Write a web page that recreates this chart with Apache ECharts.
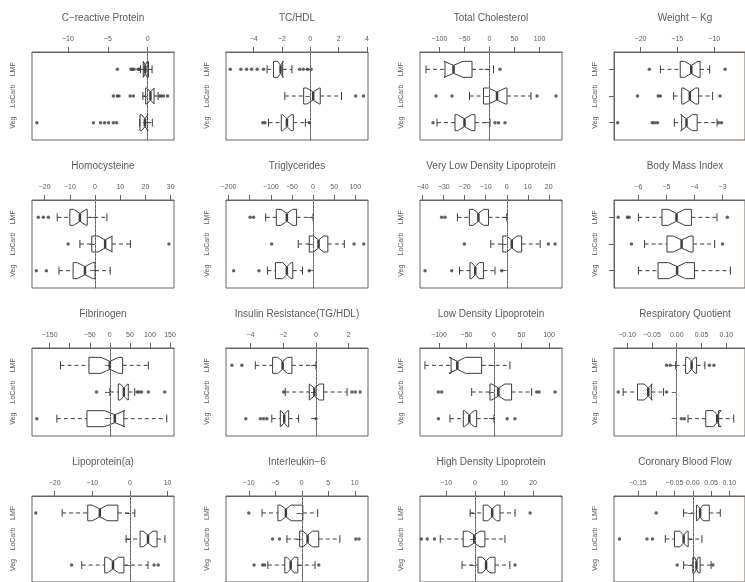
<!DOCTYPE html>
<html>
<head>
<meta charset="utf-8">
<script src="https://cdn.jsdelivr.net/npm/echarts@6/dist/echarts.min.js"></script>
<style>
html, body { margin: 0; background: #fff; }
#chart { width: 745px; height: 582px; }
</style>
</head>
<body>
<div id="chart"></div>
<script>
const groupNames = ['LMF', 'LoCarb', 'Veg'];
const titles = [
    'C\u2212reactive Protein', 'TC/HDL', 'Total Cholesterol', 'Weight \u2212 Kg',
    'Homocysteine', 'Triglycerides', 'Very Low Density Lipoprotein', 'Body Mass Index',
    'Fibrinogen', 'Insulin Resistance(TG/HDL)', 'Low Density Lipoprotein', 'Respiratory Quotient',
    'Lipoprotein(a)', 'Interleukin\u22126', 'High Density Lipoprotein', 'Coronary Blood Flow'
];
const axisMin = [-14.5, -5.95, -139, -23.6, -25, -206, -41.3, -6.87, -194, -5.5, -134.5, -0.1265, -26, -14.3, -19, -0.215];
const axisMax = [3.3, 4.07, 145, -5.8, 31.3, 130, 26.3, -2.2, 160, 3.18, 123.6, 0.1377, 11.7, 12.5, 30, 0.1425];
const tickValues = [
    [-10, -5, 0], [-4, -2, 0, 2, 4], [-100, -50, 0, 50, 100], [-20, -15, -10],
    [-20, -10, 0, 10, 20, 30], [-200, -150, -100, -50, 0, 50, 100], [-40, -30, -20, -10, 0, 10, 20], [-6, -5, -4, -3],
    [-150, -100, -50, 0, 50, 100, 150], [-4, -2, 0, 2], [-100, -50, 0, 50, 100], [-0.1, -0.05, 0, 0.05, 0.1],
    [-20, -10, 0, 10], [-10, -5, 0, 5, 10], [-10, 0, 10, 20], [-0.15, -0.1, -0.05, 0, 0.05, 0.1]
];
const tickLabels = [
    [-10, -5, 0], [-4, -2, 0, 2, 4], [-100, -50, 0, 50, 100], [-20, -15, -10],
    [-20, -10, 0, 10, 20, 30], [-200, -100, -50, 0, 50, 100], [-40, -30, -20, -10, 0, 10, 20], [-6, -5, -4, -3],
    [-150, -50, 0, 50, 100, 150], [-4, -2, 0, 2], [-100, -50, 0, 50, 100], [-0.1, -0.05, 0, 0.05, 0.1],
    [-20, -10, 0, 10], [-10, -5, 0, 5, 10], [-10, 0, 10, 20], [-0.15, -0.05, 0, 0.05, 0.1]
];
// per panel, per group: [lower whisker, Q1, median, Q3, upper whisker]
const boxStats = [
    [[-0.9, -0.55, -0.3, 0.1, 0.55], [-0.6, -0.25, 0.35, 0.8, 1.3], [-1.0, -0.96, -0.35, -0.04, 0.58]],
    [[-3.05, -2.6, -2.1, -1.95, -1.3], [-1.8, -0.47, 0.2, 0.7, 2.2], [-2.95, -2.05, -1.65, -1.2, -0.35]],
    [[-127, -89, -72, -35, 8], [-40, -12, 15, 35, 83], [-105, -69, -50, -29, 1]],
    [[-17.3, -14.6, -13.1, -11.9, -10.6], [-15.5, -14.4, -13.3, -12.1, -10.2], [-15.4, -14.4, -13.75, -12.3, -9.6]],
    [[-15, -10, -6, -3.1, 4.7], [-6, -1.3, 4, 6.7, 14], [-14.3, -8.7, -4, 0, 6]],
    [[-112, -87, -62, -39, 0], [-35, -9, 13, 35, 74], [-108, -89, -62, -48, -25]],
    [[-23.5, -17.8, -13.5, -8.7, 0], [-7.6, -1.9, 2.4, 7.1, 15.9], [-22.5, -17.5, -15, -11.1, -5.6]],
    [[-6.0, -5.16, -4.64, -4.11, -3.2], [-5.78, -4.98, -4.46, -4.05, -3.28], [-6.0, -5.3, -4.62, -4.0, -2.72]],
    [[-123, -52, 0, 32, 96], [0, 21, 35, 46, 62], [-132, -57, 12.5, 35, 142]],
    [[-3.71, -2.65, -2.04, -1.47, 0], [-1.88, -0.41, -0.1, 0.47, 1.9], [-2.7, -2.18, -1.94, -1.67, -1.06]],
    [[-125.5, -78, -66.7, -22.4, 29], [-40.6, -7.3, 7.9, 32, 68.5], [-80, -55.8, -44.8, -31.5, 0]],
    [[-0.002, 0.0179, 0.03, 0.0401, 0.0568], [-0.108, -0.079, -0.0574, -0.0512, -0.0265], [0.0228, 0.0586, 0.0815, 0.0846, 0.115]],
    [[-18, -11.2, -8, -3.2, 1.3], [-1, 2.7, 4.8, 7.2, 9.3], [-12.8, -6.7, -4.5, -1.6, 4.8]],
    [[-7.5, -4.5, -3, 0.2, 3], [-2.8, -0.4, 1.1, 3.2, 7.2], [-6.4, -3.2, -2.1, -0.75, 2.5]],
    [[-1.7, 2.8, 5.9, 8.6, 13.8], [-12, -4.1, -0.3, 3.4, 10.3], [-4.5, 1, 3.8, 6.9, 12]],
    [[-0.025, 0.01, 0.02, 0.045, 0.075], [-0.075, -0.05, -0.025, -0.0125, 0.025], [-0.025, 0, 0.01, 0.02, 0.05]]
];
// half width of the notch around the median
const notchHalf = [
    [0.25, 0.45, 0.4], [0.2, 0.45, 0.3], [19, 17, 14], [0.9, 0.8, 0.8],
    [2.5, 2.8, 3], [14, 12, 10], [2.5, 2.5, 1.8], [0.3, 0.3, 0.3],
    [22, 9, 25], [0.3, 0.3, 0.2], [15, 12, 9], [0.007, 0.008, 0.008],
    [2, 1.3, 1.5], [1, 0.9, 0.7], [1.5, 2, 1.3], [0.008, 0.01, 0.005]
];
const outliers = [
    [[-3.8, -2.1, -1.9, -1.7, -1.2, -1.05], [-4.3, -3.8, -3.6, -2.2, -1.8, 1.5, 1.7, 2.0, 2.5], [-13.9, -6.8, -5.9, -5.4, -4.9, -4.3, -3.9]],
    [[-5.65, -4.9, -4.5, -4.15, -3.75, -3.3, -0.75, -0.5, -0.2, 0.05], [3.2, 3.75], [-3.35, -3.2, -0.07]],
    [[21], [-107, -75, 95, 133], [-113, 11, 18, 31]],
    [[-18.8, -8.5], [-20.4, -17.6, -17.3, -9.2], [-23.1, -18.4, -18.1, -17.7, -9.4, -9.0]],
    [[-22.5, -20.5, -18.5], [-10.7, 29.3], [-23.3, -19.3]],
    [[-149, -141], [-98, 97, 120], [-188, -128, -9]],
    [[-31, -29.4], [-20.2, 19.8, 23], [-38.9, -26.2, -2.4]],
    [[-6.72, -6.39, -6.33, -2.83], [-6.25, -3.0], []],
    [[], [-33, 68, 73, 79, 96, 137], [-182]],
    [[-5.14, -4.53], [-1.98, 2.2, 2.4, 2.7], [-4.29, -3.4, -3.2, -3.0, 0]],
    [[], [-101, -95, 77.6, 82, 111], [-101, 24, 38]],
    [[-0.0204, -0.013, 0.066, 0.075], [-0.118, -0.0204], [0.0093, 0.0154]],
    [[-25], [], [-15.5, 6.4, 7.5]],
    [[-10], [-5.5, -4.2, 10.2, 10.8], [-9, -7.4, -7, 3.2]],
    [[19], [-18.5, -16.5, -14], [13.8]],
    [[-0.1], [-0.2, -0.125, -0.11], [-0.0425, 0.055]]
];

const colLeft = [32, 226, 420, 614];
const rowTop = [52, 200, 348, 496];
const plotW = 142, plotH = 88;
const ink = '#3c3c3c';
const frame = '#6a6560';
const textColor = '#5a5a5a';
const font = 'Liberation Sans, Arial, sans-serif';

function labelFormatter(i) {
    return v => {
        const s = (i === 11 || i === 15) ? v.toFixed(2) : String(v);
        return s.replace('-', '\u2212');
    };
}

function seg(a, b) {
    return { x1: a[0], y1: a[1], x2: b[0], y2: b[1] };
}

function renderBox(params, api) {
    const y = api.value(0);
    const lo = api.value(1), q1 = api.value(2), med = api.value(3), q3 = api.value(4), hi = api.value(5);
    const nh = api.value(6);
    const hb = 0.3, hn = 0.15, hs = 0.15;
    const p = (x, yy) => api.coord([x, yy]);
    const box = [
        p(q1, y - hb), p(med - nh, y - hb), p(med, y - hn), p(med + nh, y - hb), p(q3, y - hb),
        p(q3, y + hb), p(med + nh, y + hb), p(med, y + hn), p(med - nh, y + hb), p(q1, y + hb)
    ];
    const dashed = { stroke: ink, lineWidth: 1, lineDash: [4, 3] };
    const solid = { stroke: ink, lineWidth: 1 };
    return {
        type: 'group',
        children: [
            { type: 'line', shape: seg(p(lo, y), p(q1, y)), style: dashed },
            { type: 'line', shape: seg(p(q3, y), p(hi, y)), style: dashed },
            { type: 'line', shape: seg(p(lo, y - hs), p(lo, y + hs)), style: solid },
            { type: 'line', shape: seg(p(hi, y - hs), p(hi, y + hs)), style: solid },
            { type: 'polygon', shape: { points: box }, style: { fill: 'none', stroke: ink, lineWidth: 1 } },
            { type: 'line', shape: seg(p(med, y - hn), p(med, y + hn)), style: { stroke: ink, lineWidth: 2.5 } }
        ]
    };
}

const chart = echarts.init(document.getElementById('chart'));
const option = { animation: false, title: [], grid: [], xAxis: [], yAxis: [], series: [] };

titles.forEach((t, i) => {
    const col = i % 4, row = Math.floor(i / 4);
    const left = colLeft[col], top = rowTop[row];

    option.title.push({
        text: t, left: left + plotW / 2, top: top - 39, textAlign: 'center', padding: 0,
        textStyle: { fontSize: 10, fontWeight: 'normal', color: textColor, fontFamily: font }
    });
    option.grid.push({ left: left, top: top, width: plotW, height: plotH, show: true, borderColor: frame, borderWidth: 1 });
    option.xAxis.push({
        gridIndex: i, type: 'value', position: 'top', min: axisMin[i], max: axisMax[i],
        axisLine: { show: true, lineStyle: { color: frame } },
        splitLine: { show: false },
        axisTick: { show: true, length: 5, customValues: tickValues[i], lineStyle: { color: frame } },
        axisLabel: { customValues: tickLabels[i], formatter: labelFormatter(i), fontSize: 7, color: textColor, fontFamily: font, margin: 9 }
    });
    option.yAxis.push({
        gridIndex: i, type: 'value', inverse: true, min: 0.35, max: 3.65,
        axisLine: { show: true, lineStyle: { color: frame } },
        splitLine: { show: false },
        axisTick: { show: true, length: 5, customValues: [1, 2, 3], lineStyle: { color: frame } },
        axisLabel: { customValues: [1, 2, 3], formatter: v => groupNames[v - 1], rotate: 90, fontSize: 7, color: textColor, fontFamily: font, margin: 15 }
    });

    option.series.push({
        type: 'custom', xAxisIndex: i, yAxisIndex: i, renderItem: renderBox,
        encode: { x: [1, 2, 3, 4, 5], y: 0 },
        data: boxStats[i].map((s, g) => [g + 1].concat(s, [notchHalf[i][g]]))
    });

    const pts = [];
    outliers[i].forEach((arr, g) => arr.forEach(v => pts.push([v, g + 1])));
    const scatter = {
        type: 'scatter', xAxisIndex: i, yAxisIndex: i, data: pts, symbolSize: 3.5,
        itemStyle: { color: ink }, silent: true
    };
    if (axisMin[i] < 0 && axisMax[i] > 0) {
        scatter.markLine = {
            silent: true, symbol: ['none', 'none'], label: { show: false },
            lineStyle: { type: [1, 3], color: '#9a9a9a', width: 1 },
            data: [{ xAxis: 0 }]
        };
    }
    option.series.push(scatter);
});

chart.setOption(option);
</script>
</body>
</html>
